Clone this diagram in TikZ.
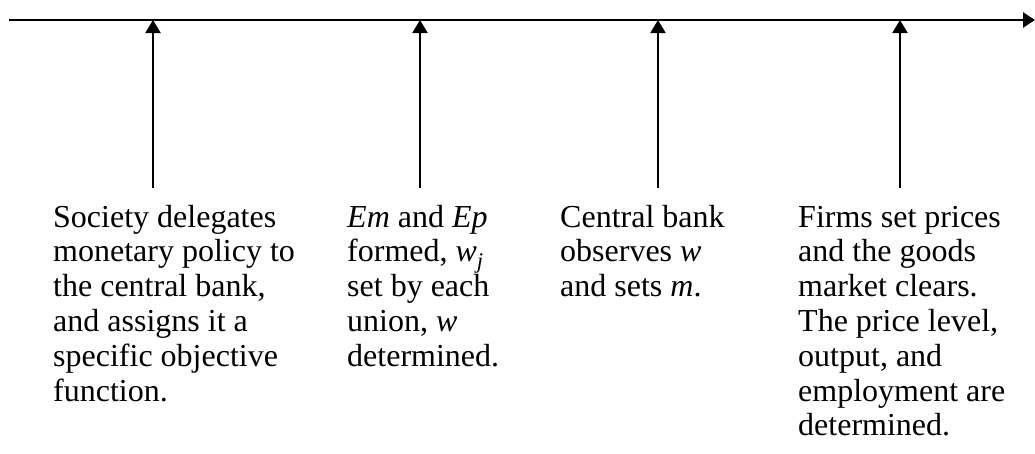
\documentclass[tikz,border=0pt]{standalone}
\usepackage{fontspec}
\setmainfont{Liberation Serif}
\usetikzlibrary{arrows.meta}
\tikzset{
  axis/.style={line width=2.4pt,-{Triangle[length=12pt,width=15pt]}},
  event/.style={line width=2pt,-{Triangle[length=13pt,width=15pt]}},
  caption/.style={anchor=base west,inner sep=0pt,align=left,
    font=\fontsize{32}{34.8}\selectfont}
}
\begin{document}
\begin{tikzpicture}[x=1pt,y=-1pt]
\useasboundingbox (0,0) rectangle (1035,453);
% time line
\coordinate (L) at (9,20);
\coordinate (R) at (1035,20);
\draw[axis] (L) -- (R);
% feet of the event arrows
\coordinate (b1) at (153,188);
\coordinate (b2) at (420,188);
\coordinate (b3) at (658,188);
\coordinate (b4) at (900,188);
\foreach \i in {1,...,4}{
  \draw[event] (b\i) -- (b\i |- L);
}
% stage descriptions, placed by the baseline of their last line
\node[caption] (c1) at (53,401) {Society delegates\\monetary policy to\\the central bank,\\and assigns it a\\specific objective\\function.};
\node[caption] (c2) at (347,366.2) {\textit{Em} and \textit{Ep}\\formed, \textit{w}\textsubscript{\textit{j}}\\set by each\\union, \textit{w}\\determined.};
\node[caption] (c3) at (560,296.6) {Central bank\\observes \textit{w}\\and sets \textit{m}.};
\node[caption] (c4) at (798,435.8) {Firms set prices\\and the goods\\market clears.\\The price level,\\output, and\\employment are\\determined.};
\end{tikzpicture}
\end{document}
